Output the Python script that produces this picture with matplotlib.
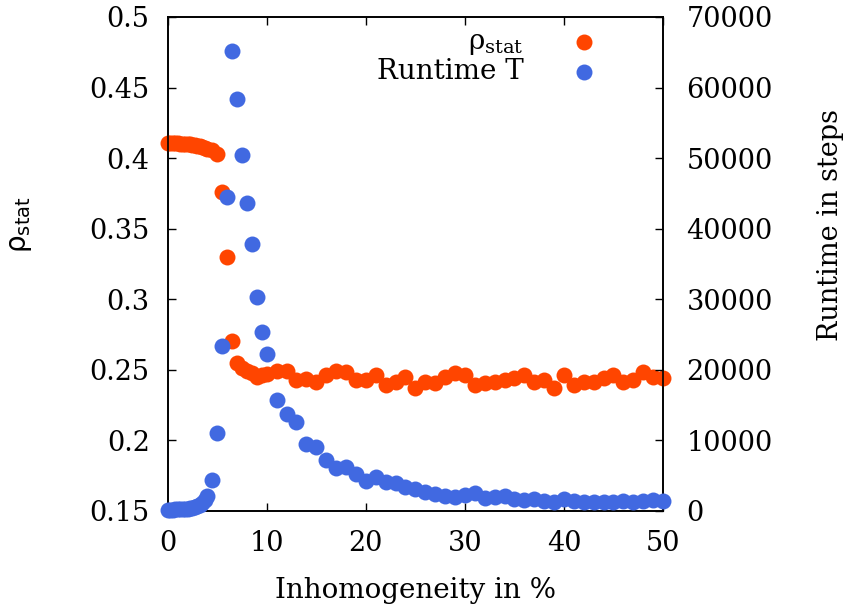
import numpy as np
import matplotlib
matplotlib.use('Agg')
import matplotlib.pyplot as plt

plt.rcParams['font.family'] = ['DejaVu Serif']
plt.rcParams['mathtext.fontset'] = 'custom'
plt.rcParams['mathtext.rm'] = 'DejaVu Serif'
plt.rcParams['mathtext.sf'] = 'DejaVu Sans'

# inhomogeneity in %
inhom = [0, 0.25, 0.5, 0.75, 1.0, 1.25, 1.5, 1.75, 2.0, 2.25, 2.5, 2.75, 3.0, 3.25, 3.5, 3.75,
         4.0, 4.5, 5.0, 5.5, 6.0, 6.5, 7.0, 7.5, 8.0, 8.5, 9.0, 9.5, 10,
         11, 12, 13, 14, 15, 16, 17, 18, 19, 20, 21, 22, 23, 24, 25, 26, 27, 28, 29, 30,
         31, 32, 33, 34, 35, 36, 37, 38, 39, 40, 41, 42, 43, 44, 45, 46, 47, 48, 49, 50]

# stationary density
rho_stat = [0.4106, 0.4105, 0.4105, 0.4104, 0.4104, 0.4103, 0.4102, 0.4101, 0.4100, 0.4098,
            0.4096, 0.4093, 0.4089, 0.4085, 0.4080, 0.4075,
            0.4068, 0.4055, 0.4030, 0.3760, 0.3300, 0.2705, 0.2545, 0.2510, 0.2490, 0.2476,
            0.2450, 0.2462, 0.2470,
            0.2495, 0.2495, 0.2428, 0.2436, 0.2416, 0.2464, 0.2490, 0.2485, 0.2428, 0.2428,
            0.2464, 0.2395, 0.2416, 0.2452, 0.2370, 0.2416, 0.2405, 0.2452, 0.2476, 0.2464,
            0.2393, 0.2405, 0.2416, 0.2428, 0.2440, 0.2464, 0.2416, 0.2428, 0.2370, 0.2464,
            0.2393, 0.2416, 0.2416, 0.2440, 0.2464, 0.2416, 0.2428, 0.2487, 0.2452, 0.2440]

# runtime in steps
runtime = [150, 170, 190, 210, 230, 250, 280, 310, 350, 410, 480, 580, 700, 850, 1100, 1500,
           2125, 4390, 11100, 23430, 44450, 65230, 58380, 50450, 43690, 37830, 30280, 25410, 22250,
           15700, 13800, 12600, 9550, 9070, 7280, 6050, 6280, 5200, 4300, 4860, 4150, 3920, 3450,
           3070, 2740, 2410, 2130, 1940, 2270, 2600, 1800, 2000, 2130, 1660, 1560, 1660, 1470,
           1320, 1660, 1470, 1320, 1320, 1320, 1320, 1470, 1320, 1470, 1560, 1420]

xticks = [0, 10, 20, 30, 40, 50]
yticks = [0.15, 0.2, 0.25, 0.3, 0.35, 0.4, 0.45, 0.5]
ytick_labels = ['0.15', '0.2', '0.25', '0.3', '0.35', '0.4', '0.45', '0.5']
y2ticks = [0, 10000, 20000, 30000, 40000, 50000, 60000, 70000]

fig = plt.figure(figsize=(8.5, 6.11), dpi=100)
ax = fig.add_axes([0.1973, 0.1637, 0.5827, 0.8085])
ax2 = ax.twinx()

p1 = ax.scatter(inhom, rho_stat, s=132, color='#ff4500', linewidths=0, clip_on=False, zorder=3)
p2 = ax2.scatter(inhom, runtime, s=132, color='#4169e1', linewidths=0, clip_on=False, zorder=3)

ax.set_xlim(0, 50)
ax.set_ylim(0.15, 0.5)
ax2.set_ylim(0, 70000)
ax.set_xticks(xticks)
ax.set_yticks(yticks)
ax.set_yticklabels(ytick_labels)
ax2.set_yticks(y2ticks)

ax.tick_params(axis='x', direction='in', length=6, width=1, top=True, labelsize=19.5, pad=14)
ax.tick_params(axis='y', direction='in', length=6, width=1, right=False, labelsize=19.5, pad=13)
ax2.tick_params(axis='y', direction='in', length=6, width=1, labelsize=19.5, pad=17)
for a in (ax, ax2):
    for sp in a.spines.values():
        sp.set_linewidth(1.2)

ax.set_xlabel('Inhomogeneity in %', fontsize=20, labelpad=14)
ax.set_ylabel(r'ρ$_{\mathsf{stat}}$', fontsize=20, family='DejaVu Sans')
ax.yaxis.set_label_coords(-0.27, 0.579)
ax2.set_ylabel('Runtime in steps', fontsize=19.5)
ax2.yaxis.set_label_coords(1.31, 0.579)

ax2.legend([p1, p2], [r'ρ$_{\mathrm{stat}}$', 'Runtime T'], loc='upper right',
           bbox_to_anchor=(0.92, 1.0), frameon=False, markerfirst=False,
           fontsize=20, handletextpad=1.2, labelspacing=0.05, borderaxespad=0.0)

fig.savefig('out.png', dpi=100)
